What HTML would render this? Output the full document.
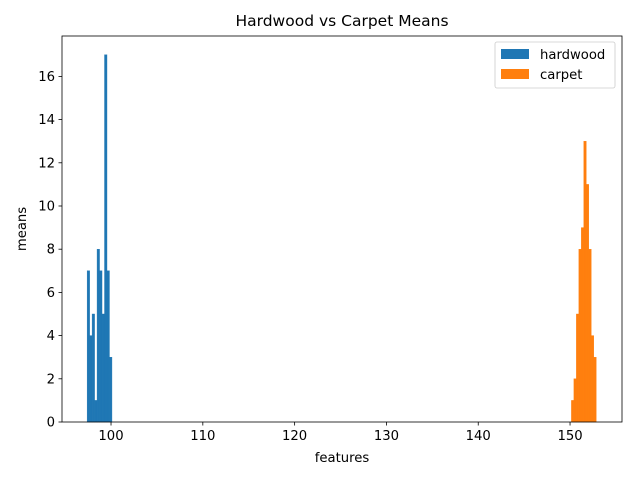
<!DOCTYPE html>
<html><head><meta charset="utf-8"><style>
body{margin:0;background:#fff;font-family:"Liberation Sans","DejaVu Sans",sans-serif}
text{font-family:"DejaVu Sans","Liberation Sans",sans-serif}
</style></head><body>
<svg id="c" width="640" height="480"></svg>
<script>
const hardwoodEdges=[97.4,97.67,97.94,98.21,98.48,98.75,99.02,99.29,99.56,99.83,100.1];
const hardwoodCounts=[7,4,5,1,8,7,5,17,7,3];
const carpetEdges=[150.15,150.42,150.69,150.96,151.23,151.5,151.77,152.04,152.31,152.58,152.85];
const carpetCounts=[1,2,5,8,9,13,11,8,4,3];
const xTicks=[100,110,120,130,140,150];
const yTicks=[0,2,4,6,8,10,12,14,16];
const L=62,R=622,T=36,B=422;
const xMin=94.66,xMax=155.66,yMax=17.87;
const X=v=>L+(v-xMin)/(xMax-xMin)*(R-L);
const Y=v=>B-v/yMax*(B-T);
const svg=document.getElementById('c');
const NS='http://www.w3.org/2000/svg';
function mk(t,a,p){const e=document.createElementNS(NS,t);for(const k in a)e.setAttribute(k,a[k]);(p||svg).appendChild(e);return e;}
function bars(edges,counts,color,name){
  const g=mk('g',{});
  
  
  counts.forEach((c,i)=>{
    const x0=X(edges[i]),x1=X(edges[i+1]);
    const r=mk('rect',{x:x0,y:Y(c),width:x1-x0,height:B-Y(c),fill:color,stroke:color,'stroke-width':0.4},g);
    
    
  });
}
bars(hardwoodEdges,hardwoodCounts,'#1f77b4','hardwood');
bars(carpetEdges,carpetCounts,'#ff7f0e','carpet');
const fr=mk('rect',{x:L,y:T,width:R-L,height:B-T,fill:'none',stroke:'#000','stroke-width':0.8});

xTicks.forEach(t=>{
  mk('line',{x1:X(t),x2:X(t),y1:B,y2:B+3.5,stroke:'#000','stroke-width':0.8});
  const e=mk('text',{x:X(t),y:B+18,'text-anchor':'middle','font-size':13.2});
  e.textContent=t;
});
yTicks.forEach(t=>{
  mk('line',{x1:L-3.5,x2:L,y1:Y(t),y2:Y(t),stroke:'#000','stroke-width':0.8});
  const e=mk('text',{x:L-7,y:Y(t)+4.5,'text-anchor':'end','font-size':13.2});
  e.textContent=t;
});
let e=mk('text',{x:(L+R)/2,y:462,'text-anchor':'middle','font-size':13.2});e.textContent='features';

e=mk('text',{x:26,y:(T+B)/2,'text-anchor':'middle','font-size':13.2,transform:`rotate(-90 26 ${(T+B)/2})`});e.textContent='means';

e=mk('text',{x:(L+R)/2,y:26,'text-anchor':'middle','font-size':15.5});e.textContent='Hardwood vs Carpet Means';

const lg=mk('g',{});
mk('rect',{x:495,y:42,width:120,height:46,rx:2,fill:'#fff',stroke:'#ccc','stroke-width':0.8},lg);
[['hardwood','#1f77b4',49],['carpet','#ff7f0e',69]].forEach(([n,c,y])=>{
  mk('rect',{x:501,y:y,width:28,height:10,fill:c},lg);
  const t=mk('text',{x:540,y:y+10,'font-size':13.2},lg);t.textContent=n;
  
});
</script>
</body></html>
